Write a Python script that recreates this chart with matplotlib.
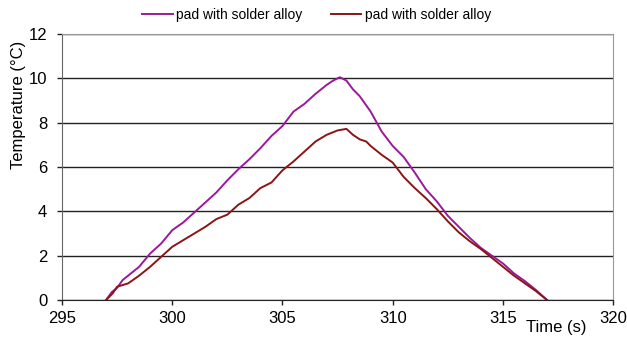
import matplotlib.pyplot as plt

plt.rcParams['font.family'] = ['Liberation Sans', 'DejaVu Sans']

# time (s) and temperature rise (°C)
t_purple = [297.0, 297.25, 297.5, 297.75, 298.0, 298.5, 299.0, 299.5, 300.0, 300.5,
            301.0, 301.5, 302.0, 302.5, 303.0, 303.5, 304.0, 304.5, 305.0, 305.5,
            306.0, 306.5, 307.0, 307.3, 307.6, 307.9, 308.2, 308.5, 309.0, 309.5,
            310.0, 310.5, 311.0, 311.5, 312.0, 312.5, 313.0, 313.5, 314.0, 314.5,
            315.0, 315.5, 316.0, 316.5, 317.0]
temp_purple = [0.0, 0.35, 0.55, 0.9, 1.1, 1.5, 2.1, 2.55, 3.15, 3.5,
               3.95, 4.4, 4.85, 5.4, 5.9, 6.35, 6.85, 7.4, 7.85, 8.5,
               8.85, 9.3, 9.7, 9.9, 10.05, 9.9, 9.5, 9.2, 8.5, 7.6,
               6.95, 6.45, 5.75, 5.0, 4.45, 3.8, 3.3, 2.8, 2.35, 2.0,
               1.65, 1.2, 0.85, 0.45, 0.0]

t_red = [297.0, 297.3, 297.5, 298.0, 298.5, 299.0, 299.5, 300.0, 300.5, 301.0,
         301.5, 302.0, 302.5, 303.0, 303.5, 304.0, 304.5, 305.0, 305.5, 306.0,
         306.5, 307.0, 307.5, 307.9, 308.2, 308.5, 308.8, 309.0, 309.5, 310.0,
         310.5, 311.0, 311.5, 312.0, 312.5, 313.0, 313.5, 314.0, 314.5, 315.0,
         315.5, 316.0, 316.5, 317.0]
temp_red = [0.0, 0.3, 0.6, 0.75, 1.1, 1.5, 1.95, 2.4, 2.7, 3.0,
            3.3, 3.65, 3.85, 4.3, 4.6, 5.05, 5.3, 5.85, 6.25, 6.7,
            7.15, 7.45, 7.65, 7.72, 7.45, 7.25, 7.15, 6.95, 6.55, 6.2,
            5.55, 5.05, 4.6, 4.1, 3.55, 3.05, 2.65, 2.3, 1.9, 1.5,
            1.1, 0.75, 0.4, 0.0]

labels = ['pad with solder alloy', 'pad with solder alloy']

fig = plt.figure(figsize=(6.27, 3.38), dpi=100)
ax = fig.add_axes([0.0989, 0.1124, 0.879, 0.787])

ax.plot(t_purple, temp_purple, color='#9a199a', lw=1.4, label=labels[0])
ax.plot(t_red, temp_red, color='#8b1515', lw=1.4, label=labels[1])

ax.set_xlim(295, 320)
ax.set_ylim(0, 12)
ax.set_xticks([295, 300, 305, 310, 315, 320])
ax.set_yticks([0, 2, 4, 6, 8, 10, 12])
ax.tick_params(labelsize=12, length=3.6, width=1, color='#222222')
ax.tick_params(axis='x', pad=4)
ax.tick_params(axis='y', pad=7)
ax.yaxis.grid(True, color='#222222', lw=1)
ax.set_axisbelow(True)

ax.spines['bottom'].set_color('#222222')
ax.spines['left'].set_color('#666666')
for s in ['top', 'right']:
    ax.spines[s].set_color('#999999')

ax.set_xlabel('Time (s)', fontsize=12)
ax.xaxis.set_label_coords(0.897, -0.075)
ax.set_ylabel('Temperature (°C)', fontsize=12)
ax.yaxis.set_label_coords(-0.065, 0.733)

fig.legend(loc='center', bbox_to_anchor=(0.505, 0.956), ncol=2, frameon=False,
           fontsize=10, handlelength=2.2, handletextpad=0.25, columnspacing=2.0)

fig.savefig('out.png', dpi=100)
